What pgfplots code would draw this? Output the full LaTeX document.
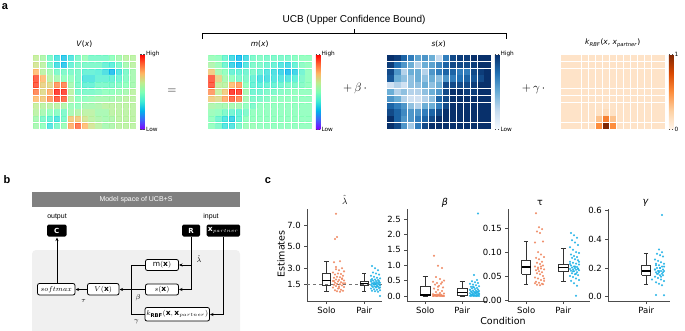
\documentclass[border=0pt]{standalone}
\usepackage{pgfplots}
\pgfplotsset{compat=1.18}
\usepackage{pgfplotstable}
\usetikzlibrary{arrows.meta}
\usepackage{fontspec}
\setmainfont{DejaVu Sans}
\newfontfamily\arial{Liberation Sans}

\definecolor{orgpt}{RGB}{239,136,98}
\definecolor{blupt}{RGB}{35,178,230}

\pgfplotsset{
 colormap={mplrainbow}{rgb=(0.5,0,1) rgb=(0.25,0.383,0.981) rgb=(0,0.707,0.924) rgb=(0.25,0.924,0.831) rgb=(0.5,1,0.707) rgb=(0.75,0.924,0.556) rgb=(1,0.707,0.383) rgb=(1,0.383,0.195) rgb=(1,0,0)},
 colormap={mplblues}{rgb=(0.969,0.984,1) rgb=(0.776,0.859,0.937) rgb=(0.420,0.682,0.839) rgb=(0.129,0.443,0.710) rgb=(0.031,0.188,0.420)},
 colormap={mploranges}{rgb=(1,0.961,0.922) rgb=(0.992,0.816,0.635) rgb=(0.992,0.553,0.235) rgb=(0.851,0.282,0.004) rgb=(0.498,0.153,0.016)},
 colorbar shift/.style={xshift=5pt},
 heat/.style={scale only axis, width=104pt, height=75pt, anchor=north west,
   xmin=-0.5, xmax=14.5, ymin=-10.5, ymax=0.5, hide axis,
   point meta min=0, point meta max=1, colorbar,
   colorbar style={width=4.5pt, ytick={0,1},
     yticklabel style={font=\fontsize{5.8}{6}\selectfont, inner sep=1pt},
     major tick length=1.5pt, axis line style={draw=none}, tick style={black!70}},
   title style={at={(0.5,1)}, anchor=south, yshift=1pt, inner sep=0pt, font=\fontsize{7.5}{8}\selectfont}},
 cell/.style={scatter, only marks, mark=square*, mark size=2.6pt, line width=0.4pt, point meta=explicit,
   scatter/use mapped color={draw=mapped color, fill=mapped color}},
 cax/.style={scale only axis, height=92pt, anchor=south west, axis lines*=left,
   axis line style={black!70, line width=0.6pt}, tick align=outside, major tick length=3pt,
   tick style={black!70, line width=0.6pt}, ticklabel style={font=\fontsize{8.5}{9}\selectfont},
   clip=false},
 bx/.style={black!80, line width=0.6pt, solid},
 po/.style={only marks, mark=*, mark size=0.85pt, orgpt, opacity=0.85},
 pb/.style={only marks, mark=*, mark size=0.85pt, blupt, opacity=0.85},
}

% box: #1 centre, #2 half width, #3 lower whisker, #4 Q1, #5 median, #6 Q3, #7 upper whisker
\newcommand{\bxp}[7]{%
 \pgfmathsetmacro\bL{#1-#2}\pgfmathsetmacro\bR{#1+#2}%
 \pgfmathsetmacro\cL{#1-#2/2}\pgfmathsetmacro\cR{#1+#2/2}%
 \edef\doit{%
  \noexpand\addplot[bx] coordinates {(\bL,#4)(\bR,#4)(\bR,#6)(\bL,#6)(\bL,#4)};
  \noexpand\addplot[bx] coordinates {(#1,#4)(#1,#3)};
  \noexpand\addplot[bx] coordinates {(#1,#6)(#1,#7)};
  \noexpand\addplot[bx] coordinates {(\cL,#3)(\cR,#3)};
  \noexpand\addplot[bx] coordinates {(\cL,#7)(\cR,#7)};
  \noexpand\addplot[black, line width=1.3pt] coordinates {(\bL,#5)(\bR,#5)};
 }\doit}

\pgfplotstableread{
c0 c1 c2 c3 c4 c5 c6 c7 c8 c9 c10 c11 c12 c13 c14
0.62 0.57 0.45 0.35 0.28 0.35 0.45 0.52 0.45 0.45 0.45 0.5 0.55 0.6 0.6
0.65 0.6 0.45 0.33 0.27 0.4 0.45 0.45 0.45 0.45 0.4 0.38 0.45 0.55 0.6
0.75 0.6 0.55 0.45 0.45 0.45 0.45 0.4 0.4 0.38 0.33 0.25 0.35 0.45 0.55
0.92 0.75 0.6 0.55 0.5 0.5 0.45 0.35 0.35 0.4 0.4 0.4 0.42 0.47 0.55
0.92 0.7 0.68 0.82 0.85 0.55 0.45 0.4 0.4 0.45 0.45 0.45 0.47 0.5 0.55
0.85 0.68 0.78 0.97 0.95 0.6 0.45 0.45 0.45 0.47 0.5 0.5 0.52 0.55 0.6
0.75 0.72 0.82 0.92 0.9 0.6 0.5 0.5 0.52 0.55 0.55 0.55 0.57 0.6 0.6
0.62 0.6 0.6 0.6 0.58 0.52 0.5 0.55 0.55 0.57 0.6 0.6 0.6 0.6 0.6
0.6 0.55 0.5 0.48 0.45 0.55 0.58 0.6 0.6 0.55 0.55 0.6 0.6 0.6 0.6
0.55 0.45 0.4 0.35 0.45 0.72 0.72 0.65 0.6 0.57 0.55 0.57 0.6 0.6 0.6
0.55 0.5 0.35 0.45 0.52 0.78 0.88 0.75 0.65 0.6 0.55 0.57 0.6 0.6 0.6
}\Vtab

\pgfplotstableread{
c0 c1 c2 c3 c4 c5 c6 c7 c8 c9 c10 c11 c12 c13 c14
0.52 0.5 0.42 0.32 0.25 0.32 0.45 0.47 0.45 0.45 0.45 0.45 0.48 0.5 0.5
0.57 0.52 0.42 0.3 0.25 0.35 0.45 0.45 0.42 0.4 0.35 0.32 0.4 0.48 0.5
0.72 0.55 0.5 0.4 0.4 0.42 0.45 0.4 0.35 0.33 0.3 0.25 0.3 0.42 0.5
0.92 0.7 0.55 0.5 0.45 0.45 0.4 0.33 0.33 0.35 0.35 0.35 0.38 0.45 0.5
0.92 0.62 0.6 0.75 0.8 0.5 0.4 0.38 0.4 0.4 0.42 0.45 0.45 0.47 0.5
0.82 0.62 0.72 0.97 0.95 0.55 0.42 0.42 0.45 0.45 0.47 0.48 0.5 0.5 0.5
0.72 0.68 0.78 0.9 0.85 0.55 0.45 0.45 0.47 0.5 0.5 0.5 0.5 0.5 0.5
0.57 0.55 0.55 0.55 0.55 0.5 0.45 0.5 0.5 0.5 0.5 0.5 0.5 0.5 0.5
0.52 0.5 0.45 0.42 0.4 0.45 0.5 0.5 0.5 0.5 0.5 0.5 0.5 0.5 0.5
0.5 0.42 0.35 0.3 0.4 0.5 0.5 0.5 0.5 0.5 0.5 0.5 0.5 0.5 0.5
0.5 0.45 0.35 0.35 0.45 0.52 0.52 0.5 0.5 0.5 0.5 0.5 0.5 0.5 0.5
}\Mtab

\pgfplotstableread{
c0 c1 c2 c3 c4 c5 c6 c7 c8 c9 c10 c11 c12 c13 c14
1 0.95 0.8 0.7 0.55 0.6 0.5 0.25 0.7 0.9 0.95 0.95 1 1 1
0.95 0.75 0.6 0.5 0.3 0.5 0.55 0.65 0.8 0.9 0.9 0.9 0.95 1 1
0.9 0.6 0.3 0.5 0.5 0.3 0.6 0.7 0.8 0.8 0.7 0.7 0.9 0.95 1
0.85 0.5 0.4 0.4 0.5 0.4 0.5 0.4 0.6 0.7 0.75 0.8 0.85 0.9 1
0.2 0.3 0.2 0.4 0.4 0.5 0.4 0.5 0.9 0.9 0.9 0.9 0.95 1 1
0.5 0.3 0.4 0.3 0.3 0.4 0.5 0.6 0.9 1 1 0.95 0.95 1 1
0.6 0.5 0.3 0.2 0.2 0.3 0.4 0.8 0.9 1 1 1 1 1 1
0.8 0.7 0.6 0.4 0.3 0.5 0.5 0.7 0.9 1 1 1 1 1 1
0.9 0.8 0.65 0.6 0.6 0.7 0.8 0.9 1 1 1 1 1 1 1
1 0.8 0.6 0.6 0.7 0.8 0.9 1 1 1 1 1 1 1 1
1 0.9 0.6 0.35 0.7 0.9 1 1 1 1 1 1 1 1 1
}\Stab

\pgfplotstableread{
c0 c1 c2 c3 c4 c5 c6 c7 c8 c9 c10 c11 c12 c13 c14
0.12 0.12 0.12 0.12 0.12 0.12 0.12 0.12 0.12 0.12 0.12 0.12 0.12 0.12 0.12
0.12 0.12 0.12 0.12 0.12 0.12 0.12 0.12 0.12 0.12 0.12 0.12 0.12 0.12 0.12
0.12 0.12 0.12 0.12 0.12 0.12 0.12 0.12 0.12 0.12 0.12 0.12 0.12 0.12 0.12
0.12 0.12 0.12 0.12 0.12 0.12 0.12 0.12 0.12 0.12 0.12 0.12 0.12 0.12 0.12
0.12 0.12 0.12 0.12 0.12 0.12 0.12 0.12 0.12 0.12 0.12 0.12 0.12 0.12 0.12
0.12 0.12 0.12 0.12 0.12 0.12 0.12 0.12 0.12 0.12 0.12 0.12 0.12 0.12 0.12
0.12 0.12 0.12 0.12 0.12 0.12 0.12 0.12 0.12 0.12 0.12 0.12 0.12 0.12 0.12
0.12 0.12 0.12 0.12 0.12 0.12 0.12 0.12 0.12 0.12 0.12 0.12 0.12 0.12 0.12
0.12 0.12 0.12 0.12 0.12 0.13 0.16 0.13 0.12 0.12 0.12 0.12 0.12 0.12 0.12
0.12 0.12 0.12 0.12 0.12 0.3 0.55 0.3 0.12 0.12 0.12 0.12 0.12 0.12 0.12
0.12 0.12 0.12 0.12 0.12 0.5 1.0 0.5 0.12 0.12 0.12 0.12 0.12 0.12 0.12
}\Ktab

\begin{document}
\begin{tikzpicture}
\useasboundingbox (0,0) rectangle (685pt,-331pt);

% ---------- panel a ----------
\begin{axis}[heat, at={(32.3pt,-54.3pt)}, colormap name=mplrainbow,
  colorbar style={yticklabels={Low,High}}, title={\textit{V}(\textit{x})}]
\pgfplotsinvokeforeach{0,...,14}{\addplot[cell, opacity=0.8] table[x expr=#1, y expr=-\coordindex, meta=c#1]{\Vtab};}
\end{axis}
\begin{axis}[heat, at={(207.7pt,-54.3pt)}, colormap name=mplrainbow,
  colorbar style={yticklabels={Low,High}}, title={\textit{m}(\textit{x})}]
\pgfplotsinvokeforeach{0,...,14}{\addplot[cell, opacity=0.8] table[x expr=#1, y expr=-\coordindex, meta=c#1]{\Mtab};}
\end{axis}
\begin{axis}[heat, at={(386.7pt,-54.3pt)}, colormap name=mplblues,
  colorbar style={yticklabels={Low,High}}, title={\textit{s}(\textit{x})}]
\pgfplotsinvokeforeach{0,...,14}{\addplot[cell] table[x expr=#1, y expr=-\coordindex, meta=c#1]{\Stab};}
\end{axis}
\begin{axis}[heat, at={(560.7pt,-54.3pt)}, colormap name=mploranges,
  colorbar style={yticklabels={0,1}}, title={\textit{k}\textsubscript{\textit{RBF}}(\textit{x}, \textit{x}\textsubscript{\textit{partner}})}]
\pgfplotsinvokeforeach{0,...,14}{\addplot[cell] table[x expr=#1, y expr=-\coordindex, meta=c#1]{\Ktab};}
\end{axis}

\begin{scope}[x=1pt, y=-1pt]
\node[font=\arial\bfseries\fontsize{11}{12}\selectfont] at (5,7) {a};
\node[font=\arial\fontsize{10}{12}\selectfont] at (354,20) {UCB (Upper Confidence Bound)};
\draw[line width=0.8pt] (202,39) -- (202,33.5) -- (506.7,33.5) -- (506.7,39);
\draw[line width=0.8pt] (354,33.5) -- (354,29);
\node[font=\fontsize{13}{14}\selectfont] at (172,91) {$=$};
\node[font=\fontsize{13}{14}\selectfont] at (355,89) {$+\,\beta\,\cdot$};
\node[font=\fontsize{13}{14}\selectfont] at (533.5,89) {$+\,\gamma\,\cdot$};

% ---------- panel b ----------
\node[font=\arial\bfseries\fontsize{11}{12}\selectfont] at (7,180) {b};
\node[font=\arial\bfseries\fontsize{11}{12}\selectfont] at (268,181) {c};
\fill[black!50] (32,192) rectangle (240,207);
\node[white, font=\arial\fontsize{7}{8}\selectfont] at (136,199.5) {Model space of UCB+S};
\fill[black!6, rounded corners=4pt] (32,250) rectangle (240,338);
\node[font=\arial\fontsize{7}{8}\selectfont] at (57,217) {output};
\node[font=\arial\fontsize{7}{8}\selectfont] at (211,217) {input};
\fill[black, rounded corners=1.5pt] (47,224.5) rectangle (66.5,236.5);
\node[white, font=\fontsize{7}{8}\selectfont] at (56.75,230.5) {$\mathbf{C}$};
\fill[black, rounded corners=1.5pt] (182,224.5) rectangle (200,236.5);
\node[white, font=\fontsize{7}{8}\selectfont] at (191,230.5) {$\mathbf{R}$};
\fill[black, rounded corners=1.5pt] (206.5,224.5) rectangle (240,236.5);
\node[white, font=\fontsize{7.5}{8}\selectfont] at (223.25,230.5) {$\mathbf{x}_{partner}$};
\begin{scope}[line width=0.8pt, >={Stealth[length=3.5pt,width=3pt]}]
\draw[->] (57,283.5) -- (57,237.5);
\draw[->] (87.5,289.5) -- (75.5,289.5);
\draw[->] (131,289.5) -- (119.5,289.5);
\draw (145.5,265) -- (131,265) -- (131,314.5) -- (145,314.5);
\draw (145.5,289.5) -- (131,289.5);
\draw[->] (191,236.5) -- (191,289.5) -- (179,289.5);
\draw[->] (191,265) -- (179,265);
\draw[->] (223,236.5) -- (223,314.5) -- (210,314.5);
\draw[fill=white, rounded corners=2pt] (37.5,283.5) rectangle (75,295);
\draw[fill=white, rounded corners=2pt] (87.5,283.5) rectangle (119,295);
\draw[fill=white, rounded corners=2pt] (145.5,259.5) rectangle (178.5,270.5);
\draw[fill=white, rounded corners=2pt] (145.5,284) rectangle (178.5,295);
\draw[fill=white, rounded corners=2pt] (145,307.5) rectangle (209.5,321);
\end{scope}
\node[font=\fontsize{7.5}{8}\selectfont] at (56.25,289.25) {$softmax$};
\node[font=\fontsize{7.5}{8}\selectfont] at (103.25,289.25) {$V(\mathbf{x})$};
\node[font=\fontsize{7.5}{8}\selectfont] at (162,265) {$\mathrm{m}(\mathbf{x})$};
\node[font=\fontsize{7.5}{8}\selectfont] at (162,289.5) {$s(\mathbf{x})$};
\node[font=\fontsize{7.5}{8}\selectfont] at (177.25,314.25) {$k_{\mathbf{RBF}}(\mathbf{x},\mathbf{x}_{partner})$};
\node[font=\fontsize{7.5}{8}\selectfont, inner sep=0pt] at (199,259) {$\hat\lambda$};
\node[font=\fontsize{7.5}{8}\selectfont] at (138,297.5) {$\beta$};
\node[font=\fontsize{7.5}{8}\selectfont] at (136.5,322) {$\gamma$};
\node[font=\fontsize{7.5}{8}\selectfont] at (83.5,301) {$\tau$};

% ---------- panel c labels ----------
\node[rotate=90, font=\fontsize{9.5}{10}\selectfont] at (281,254) {Estimates};
\node[font=\fontsize{9.5}{10}\selectfont] at (503,321) {Condition};
\node[font=\fontsize{9.5}{10}\selectfont, inner sep=0pt] at (344.7,200) {$\hat{\lambda}$};
\node[font=\fontsize{9.5}{10}\selectfont] at (445,203) {\textit{β}};
\node[font=\fontsize{9.5}{10}\selectfont] at (540,203) {τ};
\node[font=\fontsize{9.5}{10}\selectfont] at (645.7,203) {\textit{γ}};
\end{scope}

% ---------- panel c axes ----------
\begin{axis}[cax, at={(307.3pt,-301pt)}, width=74.7pt, xmin=307.3, xmax=382,
  ymin=-0.05, ymax=8.49, xtick={326.5,364.2}, xticklabels={Solo,Pair},
  ytick={1.5,3,5,7}, yticklabels={1.5,3.0,5.0,7.0}]
\addplot[dashed, black!55, line width=0.6pt] coordinates {(307.3,1.5)(382,1.5)};
\bxp{326.5}{4.25}{0.81}{1.45}{1.87}{2.52}{3.66}
\bxp{364.2}{4.25}{0.88}{1.37}{1.59}{1.81}{2.52}
\addplot[po] coordinates {(336,8.05)(337,5.9)(335,5.7)(340,3.65)(334,3.55)(342,3.0)(336,2.9)(339,2.8)(344,2.7)(333,2.6)(338,2.5)(341,2.45)(335,2.4)(343,2.3)(337,2.2)(340,2.15)(334,2.1)(342,2.0)(336,1.95)(339,1.9)(344,1.85)(333,1.8)(338,1.75)(341,1.7)(335,1.65)(343,1.6)(337,1.55)(340,1.5)(334,1.45)(342,1.4)(336,1.35)(339,1.3)(344,1.25)(333,1.2)(338,1.1)(341,1.0)(335,0.95)(343,0.9)(337,0.85)(340,0.8)(345,1.6)(334,1.8)(342,2.05)(339,1.15)(336,3.1)};
\addplot[pb] coordinates {(372,3.2)(375,3.0)(378,2.8)(373,2.6)(376,2.5)(379,2.4)(371,2.3)(374,2.2)(377,2.1)(380,2.05)(372,2.0)(375,1.95)(378,1.9)(373,1.85)(376,1.8)(379,1.8)(371,1.75)(374,1.7)(377,1.7)(380,1.65)(372,1.6)(375,1.6)(378,1.55)(373,1.55)(376,1.5)(379,1.5)(371,1.45)(374,1.45)(377,1.4)(380,1.4)(372,1.35)(375,1.3)(378,1.3)(373,1.25)(376,1.2)(379,1.15)(371,1.1)(374,1.05)(377,1.0)(380,0.95)(372,0.9)(375,0.85)(378,0.8)(380,0.41)(376,1.6)(379,1.7)(371,1.9)(374,1.5)(377,1.3)(380,1.2)};
\end{axis}

\begin{axis}[cax, at={(407.3pt,-301pt)}, width=79.4pt, xmin=407.3, xmax=486.7,
  ymin=-0.162, ymax=2.825, xtick={425.3,462.2}, xticklabels={Solo,Pair},
  ytick={0,0.5,1,1.5,2,2.5}, yticklabels={0.0,0.5,1.0,1.5,2.0,2.5}]
\bxp{425.3}{5.25}{0.0}{0.02}{0.03}{0.33}{0.63}
\bxp{462.2}{5.25}{0.0}{0.03}{0.11}{0.25}{0.49}
\addplot[po] coordinates {(434,1.31)(438,0.98)(442,0.91)(436,0.62)(440,0.55)(444,0.5)(433,0.46)(437,0.42)(441,0.4)(435,0.37)(439,0.33)(443,0.28)(434,0.24)(438,0.2)(442,0.16)(436,0.13)(440,0.1)(444,0.08)(433,0.06)(437,0.05)(441,0.04)(435,0.03)(439,0.02)(443,0.02)(434,0.01)(438,0.01)(442,0.0)(436,0.0)(440,0.0)(444,0.0)(433,0.0)(437,0.0)(441,0.01)(435,0.03)(439,0.05)(443,0.0)(434,0.02)(438,0.3)(442,0.45)};
\addplot[pb] coordinates {(478,2.68)(474,0.68)(477,0.52)(472,0.48)(475,0.45)(478,0.42)(470,0.4)(473,0.37)(476,0.35)(479,0.32)(471,0.3)(474,0.28)(477,0.26)(472,0.25)(475,0.23)(478,0.21)(470,0.2)(473,0.18)(476,0.17)(479,0.16)(471,0.15)(474,0.14)(477,0.13)(472,0.12)(475,0.11)(478,0.1)(470,0.09)(473,0.08)(476,0.07)(479,0.06)(471,0.05)(474,0.04)(477,0.04)(472,0.03)(475,0.02)(478,0.02)(470,0.01)(473,0.01)(476,0.0)(479,0.0)(471,0.0)(474,0.0)(477,0.0)(472,0.05)(475,0.1)(478,0.15)(470,0.2)(473,0.3)(476,0.12)(479,0.08)};
\end{axis}

\begin{axis}[cax, at={(508.3pt,-301pt)}, width=81.7pt, xmin=508.3, xmax=590,
  ymin=-0.002, ymax=0.19, xtick={526.2,563.3}, xticklabels={Solo,Pair},
  ytick={0,0.05,0.1,0.15}, yticklabels={0.00,0.05,0.10,0.15}]
\bxp{526.2}{4.5}{0.033}{0.0544}{0.069}{0.082}{0.1226}
\bxp{563.3}{5}{0.04}{0.061}{0.0676}{0.075}{0.107}
\addplot[po] coordinates {(536,0.181)(539,0.152)(542,0.148)(537,0.143)(540,0.14)(543,0.122)(535,0.12)(538,0.1)(541,0.095)(544,0.09)(536,0.088)(539,0.085)(542,0.08)(537,0.078)(540,0.075)(543,0.072)(535,0.07)(538,0.068)(541,0.066)(544,0.064)(536,0.062)(539,0.06)(542,0.058)(537,0.056)(540,0.054)(543,0.05)(535,0.047)(538,0.045)(541,0.042)(544,0.04)(536,0.038)(539,0.036)(542,0.034)(537,0.032)(540,0.031)(543,0.033)(535,0.035)(538,0.065)(541,0.07)(544,0.045)};
\addplot[pb] coordinates {(571,0.14)(574,0.135)(577,0.13)(572,0.125)(575,0.12)(578,0.115)(570,0.11)(573,0.105)(576,0.1)(579,0.098)(571,0.095)(574,0.092)(577,0.09)(572,0.088)(575,0.085)(578,0.083)(570,0.08)(573,0.078)(576,0.076)(579,0.074)(571,0.072)(574,0.07)(577,0.069)(572,0.068)(575,0.067)(578,0.066)(570,0.065)(573,0.064)(576,0.063)(579,0.062)(571,0.061)(574,0.06)(577,0.058)(572,0.056)(575,0.054)(578,0.052)(570,0.05)(573,0.048)(576,0.045)(579,0.042)(571,0.04)(574,0.035)(577,0.03)(576,0.009)(575,0.07)(578,0.065)(570,0.075)(573,0.06)(576,0.055)(579,0.08)};
\end{axis}

\begin{axis}[cax, at={(608.3pt,-301pt)}, width=61.7pt, xmin=608.3, xmax=670,
  ymin=-0.03, ymax=0.612, xtick={646.2}, xticklabels={Pair},
  ytick={0,0.2,0.4,0.6}, yticklabels={0.0,0.2,0.4,0.6}]
\bxp{646.2}{4.5}{0.087}{0.151}{0.18}{0.22}{0.30}
\addplot[pb] coordinates {(662,0.57)(659,0.33)(662,0.31)(657,0.3)(660,0.29)(663,0.28)(655,0.26)(658,0.25)(661,0.24)(664,0.23)(656,0.22)(659,0.22)(662,0.21)(657,0.2)(660,0.2)(663,0.19)(655,0.19)(658,0.18)(661,0.18)(664,0.18)(656,0.17)(659,0.17)(662,0.16)(657,0.16)(660,0.15)(663,0.15)(655,0.14)(658,0.13)(661,0.12)(664,0.11)(656,0.1)(659,0.09)(662,0.08)(656,0.012)(664,0.01)(652,0.12)(660,0.2)(663,0.17)(655,0.19)(658,0.16)(661,0.14)(664,0.21)(656,0.23)(659,0.18)};
\end{axis}
\end{tikzpicture}
\end{document}
